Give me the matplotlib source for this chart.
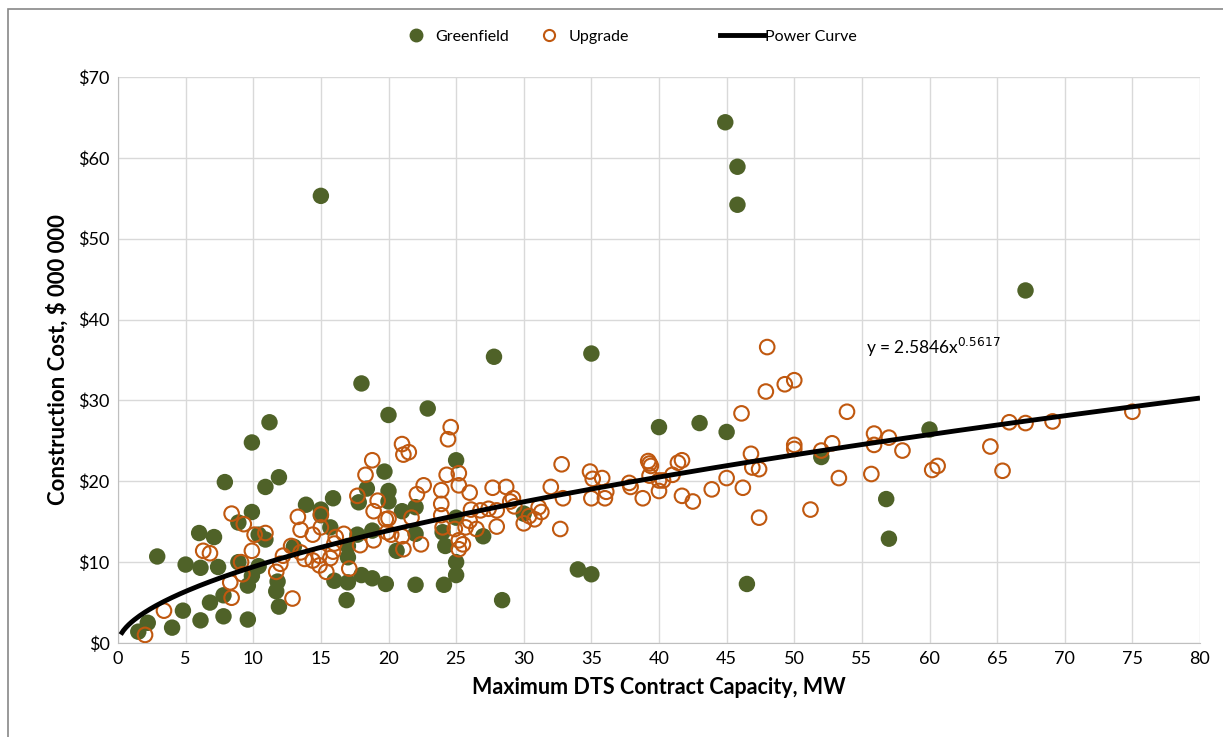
import numpy as np
import matplotlib.pyplot as plt
from matplotlib.lines import Line2D
from matplotlib.patches import Rectangle
from matplotlib.ticker import FuncFormatter, MultipleLocator

# Greenfield projects: capacity (MW), cost ($M)
green_x = [1.5, 2.2, 2.9, 4.0, 4.8, 5.0, 6.0, 6.1, 6.1, 6.8, 7.1, 7.4, 7.8, 7.8, 7.9,
           8.9, 8.9, 9.6, 9.6, 9.9, 9.9, 9.9, 10.4, 10.4, 10.9, 10.9, 11.2, 11.8, 11.7,
           11.9, 11.9, 13.0, 13.9, 15.0, 15.0, 15.0, 15.7, 15.9, 16.0, 17.0, 17.0, 17.0,
           16.9, 17.7, 17.8, 18.0, 18.0, 18.4, 18.8, 18.8, 19.7, 19.8, 20.0, 20.0, 20.0,
           20.6, 21.0, 22.0, 22.0, 22.0, 22.9, 24.0, 24.2, 24.1, 25.0, 25.0, 25.0, 25.0,
           27.0, 27.8, 28.4, 30.0, 34.0, 35.0, 35.0, 40.0, 43.0, 44.9, 45.0, 45.8, 45.8,
           46.5, 52.0, 56.8, 57.0, 60.0, 67.1]
green_y = [1.4, 2.5, 10.7, 1.9, 4.0, 9.7, 13.6, 9.3, 2.8, 5.0, 13.1, 9.4, 5.9, 3.3, 19.9,
           10.0, 14.9, 7.1, 2.9, 24.8, 16.2, 8.3, 9.5, 13.4, 19.3, 12.8, 27.3, 7.6, 6.4,
           20.5, 4.5, 11.9, 17.1, 55.3, 16.5, 15.8, 14.3, 17.9, 7.7, 7.5, 12.0, 10.6,
           5.3, 13.4, 17.4, 32.1, 8.4, 19.1, 13.9, 8.0, 21.2, 7.3, 28.2, 18.8, 17.5,
           11.4, 16.3, 16.8, 13.5, 7.2, 29.0, 13.7, 12.0, 7.2, 22.6, 15.5, 10.0, 8.4,
           13.2, 35.4, 5.3, 16.0, 9.1, 35.8, 8.5, 26.7, 27.2, 64.4, 26.1, 58.9, 54.2,
           7.3, 23.0, 17.8, 12.9, 26.4, 43.6]

# Upgrade projects
upg_x = [2.0, 3.4, 6.3, 6.8, 8.3, 8.4, 8.4, 9.1, 9.2, 9.3, 9.9, 10.1, 10.9, 11.7, 12.0,
         12.2, 12.8, 12.9, 13.3, 13.5, 13.5, 13.8, 14.4, 14.4, 14.9, 14.9, 15.0, 15.0,
         15.4, 15.7, 15.9, 16.0, 16.1, 16.7, 17.1, 17.7, 17.9, 18.3, 18.8, 18.9, 18.9,
         19.2, 19.8, 19.9, 20.0, 20.2, 21.0, 21.0, 21.1, 21.5, 21.1, 21.7, 22.1, 22.4,
         22.6, 23.9, 23.9, 23.9, 24.0, 24.3, 24.4, 24.6, 24.9, 25.2, 25.2, 25.2, 25.5,
         25.2, 25.7, 26.0, 26.0, 26.1, 26.5, 26.8, 27.4, 27.7, 28.0, 28.0, 28.7, 29.0,
         29.2, 29.3, 30.0, 30.4, 30.8, 31.1, 31.3, 32.0, 32.7, 32.8, 32.9, 34.9, 35.0,
         35.1, 35.8, 36.0, 36.1, 37.8, 37.9, 38.8, 39.2, 39.3, 39.4, 39.3, 40.0, 40.0,
         40.3, 41.0, 41.4, 41.7, 41.7, 42.5, 43.9, 45.0, 46.1, 46.2, 46.8, 46.9, 47.4,
         47.4, 48.0, 47.9, 49.3, 50.0, 50.0, 50.0, 51.2, 52.0, 52.8, 53.3, 53.9, 55.7,
         55.9, 55.9, 57.0, 58.0, 60.2, 60.6, 64.5, 65.4, 65.9, 67.1, 69.1, 75.0]
upg_y = [1.0, 4.0, 11.4, 11.1, 7.5, 5.6, 16.0, 10.0, 8.5, 14.7, 11.4, 13.4, 13.6, 8.8, 9.8,
         10.8, 12.0, 5.5, 15.6, 14.0, 11.2, 10.4, 13.4, 10.2, 10.8, 9.6, 14.3, 15.9,
         8.8, 10.5, 11.3, 12.3, 13.1, 13.5, 9.2, 18.2, 12.1, 20.8, 22.6, 16.3, 12.7,
         17.6, 15.3, 13.7, 15.4, 13.4, 13.2, 24.6, 23.3, 23.6, 11.6, 15.5, 18.4, 12.2,
         19.5, 18.9, 17.2, 15.8, 14.3, 20.8, 25.2, 26.7, 14.1, 21.0, 19.5, 12.7, 12.2,
         11.6, 14.3, 18.6, 15.1, 16.5, 14.1, 16.4, 16.6, 19.2, 16.4, 14.4, 19.3, 17.5,
         17.9, 16.9, 14.8, 15.7, 15.3, 16.8, 16.2, 19.3, 14.1, 22.1, 17.9, 21.2, 17.9,
         20.3, 20.4, 17.9, 18.7, 19.8, 19.3, 17.9, 22.5, 22.2, 21.9, 20.7, 20.1, 18.8,
         20.1, 20.8, 22.3, 22.6, 18.2, 17.5, 19.0, 20.4, 28.4, 19.2, 23.4, 21.7, 21.5,
         15.5, 36.6, 31.1, 32.0, 32.5, 24.5, 24.0, 16.5, 23.8, 24.7, 20.4, 28.6, 20.9,
         25.9, 24.5, 25.4, 23.8, 21.4, 21.9, 24.3, 21.3, 27.3, 27.2, 27.4, 28.6]

# fitted power curve y = a * x^b
fit_a = 2.5846
fit_b = 0.5617

GREEN = "#4f6228"
ORANGE = "#c0580f"

plt.rcParams["font.family"] = ["Lato", "DejaVu Sans"]
fig = plt.figure(figsize=(12.23, 7.37), dpi=100)
ax = fig.add_axes([118 / 1223, 94 / 737, 1082 / 1223, 566 / 737])

ax.scatter(green_x, green_y, s=140, color=GREEN, edgecolors="none", zorder=3)
ax.scatter(upg_x, upg_y, s=110, facecolors="none", edgecolors=ORANGE,
           linewidths=1.5, zorder=4)
xs = np.linspace(0.2, 80, 400)
ax.plot(xs, fit_a * xs ** fit_b, color="black", lw=3.5, zorder=5,
        solid_capstyle="butt")

ax.text(55.3, 36.5, "y = 2.5846x$^{0.5617}$", fontsize=12.5, va="center")

ax.set_xlim(0, 80)
ax.set_ylim(0, 70)
ax.xaxis.set_major_locator(MultipleLocator(5))
ax.yaxis.set_major_locator(MultipleLocator(10))
ax.yaxis.set_major_formatter(FuncFormatter(lambda v, p: r"\$%d" % v))
ax.grid(True, color="#d9d9d9", lw=1)
ax.set_axisbelow(True)
for side in ["top", "right"]:
    ax.spines[side].set_visible(False)
for side in ["left", "bottom"]:
    ax.spines[side].set_color("#bfbfbf")
ax.tick_params(axis="both", labelsize=13, length=0, pad=6)

ax.set_xlabel("Maximum DTS Contract Capacity, MW", fontsize=15.5, fontweight="bold",
              labelpad=7)
ax.set_ylabel(r"Construction Cost, \$ 000 000", fontsize=16, fontweight="bold",
              labelpad=7)

# legend pieces across the top
h_green = Line2D([], [], ls="none", marker="o", ms=9, color=GREEN, mec=GREEN)
h_upg = Line2D([], [], ls="none", marker="o", ms=8, mfc="none", mec=ORANGE, mew=1.5)
h_fit = Line2D([], [], color="black", lw=3.5)
fig.legend([h_green], ["Greenfield"], loc="center left", frameon=False,
           bbox_to_anchor=(392 / 1223, 700 / 737), handlelength=1.2,
           handletextpad=0.6, fontsize=11.5)
fig.legend([h_upg], ["Upgrade"], loc="center left", frameon=False,
           bbox_to_anchor=(525 / 1223, 700 / 737), handlelength=1.2,
           handletextpad=0.6, fontsize=11.5)
fig.legend([h_fit], ["Power Curve"], loc="center left", frameon=False,
           bbox_to_anchor=(706 / 1223, 700 / 737), handlelength=2.7,
           handletextpad=0.1, fontsize=11.5)

# chart border
fig.patches.append(Rectangle((8 / 1223, -0.1), 1.2, (728 / 737) + 0.1,
                             transform=fig.transFigure, fill=False,
                             edgecolor="#888888", lw=1.2))

fig.savefig("out.png", dpi=100)
